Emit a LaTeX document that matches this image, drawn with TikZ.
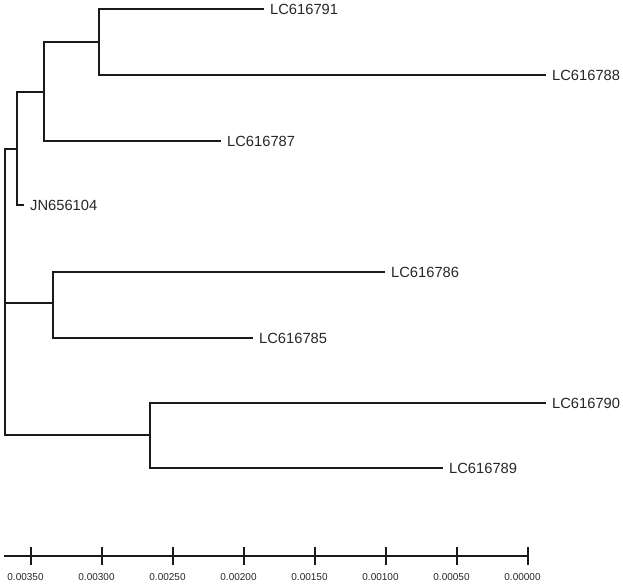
\documentclass[tikz,border=0pt]{standalone}
\usepackage{fontspec}
\setmainfont{Liberation Sans}
\definecolor{ink}{HTML}{1A1A1A}
\definecolor{txt}{HTML}{262626}
\begin{document}
\begin{tikzpicture}[x=1pt,y=-1pt,
  branch/.style={draw=ink,line width=1.5pt,line cap=rect},
  leaf/.style={anchor=west,inner ysep=0pt,inner xsep=0pt,xshift=7pt,text=txt,font=\fontsize{14.7}{16}\selectfont},
  ticklab/.style={text=txt,font=\fontsize{10}{12}\selectfont,inner sep=0pt}]
\useasboundingbox (0,0) rectangle (623,586);
% internal nodes
\coordinate (root) at (5,303);
\coordinate (A) at (17,149);
\coordinate (B) at (44,92);
\coordinate (C) at (99,42);
\coordinate (D) at (53,303);
\coordinate (E) at (150,435);
% leaf ends
\coordinate (e791) at (263,9);
\coordinate (e788) at (545,75);
\coordinate (e787) at (220,141);
\coordinate (e104) at (23,205);
\coordinate (e786) at (384,272);
\coordinate (e785) at (252,338);
\coordinate (e790) at (545,403);
\coordinate (e789) at (442,468);
% labels
\node[leaf] (l791) at (e791) {LC616791};
\node[leaf] (l788) at (e788) {LC616788};
\node[leaf] (l787) at (e787) {LC616787};
\node[leaf] (l104) at (e104) {JN656104};
\node[leaf] (l786) at (e786) {LC616786};
\node[leaf] (l785) at (e785) {LC616785};
\node[leaf] (l790) at (e790) {LC616790};
\node[leaf] (l789) at (e789) {LC616789};
% branches
\draw[branch] (root) |- (A);
\draw[branch] (root) |- (E);
\draw[branch] (root) -- (D);
\draw[branch] (A) |- (B);
\draw[branch] (A) |- (e104);
\draw[branch] (B) |- (C);
\draw[branch] (B) |- (e787);
\draw[branch] (C) |- (e791);
\draw[branch] (C) |- (e788);
\draw[branch] (D) |- (e786);
\draw[branch] (D) |- (e785);
\draw[branch] (E) |- (e790);
\draw[branch] (E) |- (e789);
% scale axis
\coordinate (ax0) at (4,556);
\coordinate (ax1) at (528,556);
\draw[branch,line cap=butt] (ax0) -- (ax1);
\foreach \x/\lab [count=\i] in {31/0.00350,102/0.00300,173/0.00250,244/0.00200,315/0.00150,386/0.00100,457/0.00050,528/0.00000}{
  \draw[branch,line cap=butt] (\x,547) -- (\x,565);
  \node[ticklab] (t\i) at (\x-5.5,577.5) {\lab};
}
\end{tikzpicture}
\end{document}
